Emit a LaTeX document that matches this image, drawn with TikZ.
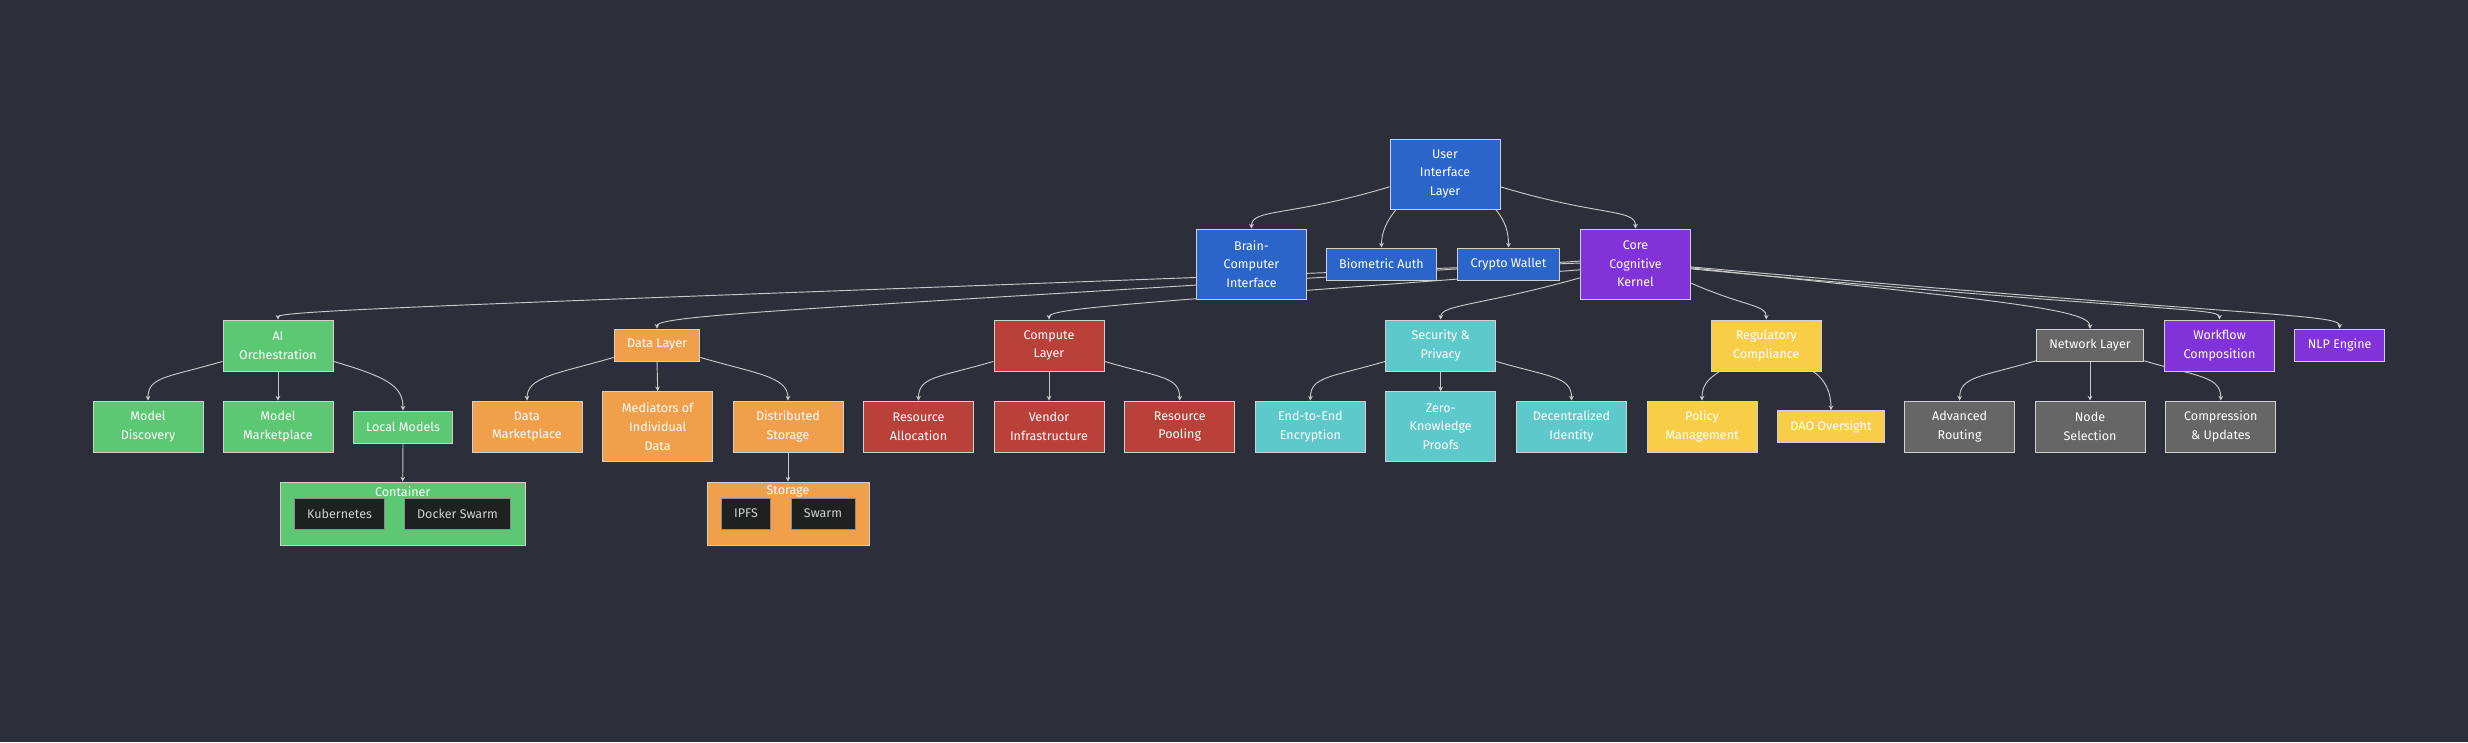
\documentclass[tikz,border=0pt]{standalone}
\usepackage{fontspec}
\setmainfont{Fira Sans}
\usetikzlibrary{arrows.meta}

\definecolor{bgdark}{HTML}{2C2F3A}
\definecolor{boxline}{HTML}{D0D0D0}
\definecolor{edgegray}{HTML}{C8C8C8}
\definecolor{uiblue}{HTML}{2B65C9}
\definecolor{kpurple}{HTML}{8133D9}
\definecolor{aigreen}{HTML}{5CC873}
\definecolor{dorange}{HTML}{F0A04A}
\definecolor{cred}{HTML}{BA403A}
\definecolor{steal}{HTML}{5DC9CA}
\definecolor{ryellow}{HTML}{F8CE48}
\definecolor{ngray}{HTML}{666666}
\definecolor{innerdark}{HTML}{1F2020}
\definecolor{innerline}{HTML}{8A8A8A}
\definecolor{innertext}{HTML}{D2D2D2}

\pgfdeclarelayer{bg}
\pgfdeclarelayer{edges}
\pgfsetlayers{bg,edges,main}

\tikzset{
  box/.style={draw=boxline, line width=0.8pt, text=white, align=center,
    inner xsep=0.39cm, inner ysep=0pt, font=\fontsize{10.7}{15.9}\selectfont},
  one/.style={box, minimum height=0.96cm},
  two/.style={box, minimum width=3.3cm, minimum height=1.53cm},
  three/.style={box, minimum width=3.3cm, minimum height=2.1cm},
  tool/.style={box, fill=innerdark, draw=innerline, text=innertext, minimum height=0.93cm},
  cluster/.style={draw=boxline, line width=0.8pt, minimum height=1.89cm},
  clustertitle/.style={text=white, font=\fontsize{10.7}{15.9}\selectfont},
  edge/.style={draw=edgegray, line width=0.8pt, -{Stealth[length=4pt,width=4pt]}},
}

\begin{document}
\begin{tikzpicture}[x=0.03cm, y=-0.03cm]

  \begin{pgfonlayer}{bg}
    \fill[bgdark] (0,0) rectangle (2468,742);
  \end{pgfonlayer}
  \useasboundingbox (0,0) rectangle (2468,742);

  % top
  \node[three, fill=uiblue] (ui) at (1445,174) {User\\Interface\\Layer};
  \node[three, fill=uiblue] (bci) at (1251.5,264) {Brain-\\Computer\\Interface};
  \node[one, fill=uiblue] (bio) at (1381.5,264) {Biometric Auth};
  \node[one, fill=uiblue] (wallet) at (1508.5,264) {Crypto Wallet};
  \node[three, fill=kpurple] (kernel) at (1635.5,264) {Core\\Cognitive\\Kernel};

  % layers
  \node[two, fill=aigreen] (aiorch) at (278,345.5) {AI\\Orchestration};
  \node[one, fill=dorange] (datalayer) at (657,345) {Data Layer};
  \node[two, fill=cred] (compute) at (1049,345.5) {Compute\\Layer};
  \node[two, fill=steal] (security) at (1440.7,345.5) {Security \&\\Privacy};
  \node[two, fill=ryellow] (regulatory) at (1766.3,345.5) {Regulatory\\Compliance};
  \node[one, fill=ngray] (network) at (2090,345.3) {Network Layer};
  \node[two, fill=kpurple] (workflow) at (2219.5,345.5) {Workflow\\Composition};
  \node[one, fill=kpurple] (nlp) at (2339.6,345) {NLP Engine};

  % leaves
  \node[two, fill=aigreen] (discovery) at (148,426.5) {Model\\Discovery};
  \node[two, fill=aigreen] (mmarket) at (278,426.5) {Model\\Marketplace};
  \node[one, fill=aigreen] (localmodels) at (403,427) {Local Models};
  \node[two, fill=dorange] (dmarket) at (527,426.5) {Data\\Marketplace};
  \node[three, fill=dorange] (mediators) at (657.7,426.7) {Mediators of\\Individual\\Data};
  \node[two, fill=dorange] (distributed) at (788,426.5) {Distributed\\Storage};
  \node[two, fill=cred] (alloc) at (918.5,426.5) {Resource\\Allocation};
  \node[two, fill=cred] (vendor) at (1049,426.5) {Vendor\\Infrastructure};
  \node[two, fill=cred] (pooling) at (1179.7,426.5) {Resource\\Pooling};
  \node[two, fill=steal] (e2e) at (1310.4,426.5) {End-to-End\\Encryption};
  \node[three, fill=steal] (zkp) at (1440.7,426.7) {Zero-\\Knowledge\\Proofs};
  \node[two, fill=steal] (identity) at (1571.5,426.5) {Decentralized\\Identity};
  \node[two, fill=ryellow] (policy) at (1702,426.5) {Policy\\Management};
  \node[one, fill=ryellow] (dao) at (1831,426.7) {DAO Oversight};
  \node[two, fill=ngray] (routing) at (1959.6,426.5) {Advanced\\Routing};
  \node[two, fill=ngray] (selection) at (2090,426.5) {Node\\Selection};
  \node[two, fill=ngray] (compression) at (2220.8,426.5) {Compression\\\& Updates};

  % clusters
  \node[cluster, fill=aigreen, minimum width=7.35cm] (container) at (402.7,513.5) {};
  \node[clustertitle] (containertitle) at (402.7,491.7) {Container};
  \node[tool] (kubernetes) at (339.5,513.5) {Kubernetes};
  \node[tool] (docker) at (457.5,513.5) {Docker Swarm};
  \node[cluster, fill=dorange, minimum width=4.86cm] (storage) at (788,513.5) {};
  \node[clustertitle] (storagetitle) at (788,491.7) {Storage};
  \node[tool] (ipfs) at (746,513.5) {IPFS};
  \node[tool] (swarm) at (823,513.5) {Swarm};

  \begin{pgfonlayer}{edges}
    % user interface
    \draw[edge] (ui.193) .. controls +(-100,30) and +(0,-20) .. (bci.north);
    \draw[edge] (ui.216) .. controls +(-10,12) and +(0,-15) .. (bio.north);
    \draw[edge] (ui.325) .. controls +(10,12) and +(0,-15) .. (wallet.north);
    \draw[edge] (ui.347) .. controls +(100,30) and +(0,-20) .. (kernel.north);
    % kernel
    \draw[edge] (kernel.179) .. controls +(-1000,38) and +(0,-10) .. (aiorch.north);
    \draw[edge] (kernel.177) .. controls +(-700,45) and +(0,-15) .. (datalayer.north);
    \draw[edge] (kernel.186) .. controls +(-420,32) and +(0,-12) .. (compute.north);
    \draw[edge] (kernel.194) .. controls +(-100,28) and +(0,-15) .. (security.north);
    \draw[edge] (kernel.341) .. controls +(55,24) and +(0,-15) .. (regulatory.north);
    \draw[edge] (kernel.356) .. controls +(300,32) and +(0,-20) .. (network.north);
    \draw[edge] (kernel.355) .. controls +(450,42) and +(0,-12) .. (workflow.north);
    \draw[edge] (kernel.357) .. controls +(560,50) and +(0,-15) .. (nlp.north);
    % left and right children
    \foreach \a/\b in {aiorch/discovery, datalayer/dmarket, compute/alloc, security/e2e, network/routing}
      \draw[edge] (\a.196) .. controls +(-55,16) and +(0,-24) .. (\b.north);
    \foreach \a/\b in {aiorch/localmodels, datalayer/distributed, compute/pooling, security/identity, network/compression}
      \draw[edge] (\a.344) .. controls +(55,16) and +(0,-24) .. (\b.north);
    \draw[edge] (regulatory.209) .. controls +(-12,8) and +(0,-15) .. (policy.north);
    \draw[edge] (regulatory.331) .. controls +(12,8) and +(0,-18) .. (dao.north);
    % straight down
    \foreach \a/\b in {aiorch/mmarket, datalayer/mediators, compute/vendor, security/zkp, network/selection, localmodels/container, distributed/storage}
      \draw[edge] (\a.south) -- (\b.north);
  \end{pgfonlayer}

\end{tikzpicture}
\end{document}
